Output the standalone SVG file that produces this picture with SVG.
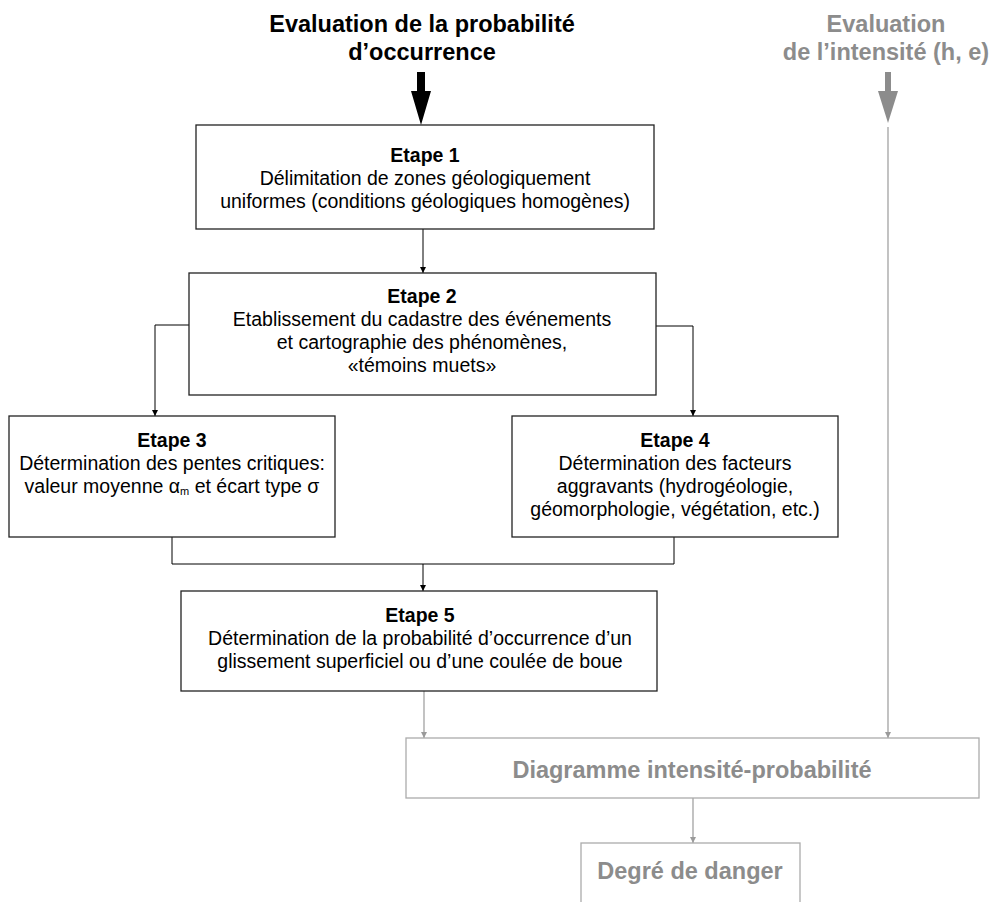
<svg xmlns="http://www.w3.org/2000/svg" width="991" height="902" viewBox="0 0 991 902">
<style>
text{font-family:"Liberation Sans",Arial,Helvetica,sans-serif;text-anchor:middle}
.t{font-size:19.5px;fill:#000}
.b{font-weight:bold}
.title{font-size:23.5px;font-weight:bold;fill:#000}
.gtitle{font-size:23.5px;font-weight:bold;fill:#8c8c8c}
.box{fill:#fff;stroke:#222;stroke-width:1.3}
.gbox{fill:#fff;stroke:#ababab;stroke-width:1.3}
.ln{fill:none;stroke:#000;stroke-width:1}
.gln{fill:none;stroke:#9a9a9a;stroke-width:1.2}
</style>
<defs>
<marker id="ah" viewBox="0 0 6 8" refX="6" refY="4" markerWidth="6" markerHeight="8" markerUnits="userSpaceOnUse" orient="auto"><path d="M0,1 L6,4 L0,7 Z" fill="#000"/></marker>
<marker id="gah" viewBox="0 0 6 8" refX="6" refY="4" markerWidth="6" markerHeight="8" markerUnits="userSpaceOnUse" orient="auto"><path d="M0,1 L6,4 L0,7 Z" fill="#9a9a9a"/></marker>
</defs>

<g id="title-probabilite">
<text class="title" x="422" y="32">Evaluation de la probabilité</text>
<text class="title" x="422" y="60">d’occurrence</text>
</g>
<g id="title-intensite">
<text class="gtitle" x="886" y="32">Evaluation</text>
<text class="gtitle" x="886" y="60">de l’intensité (h, e)</text>
</g>

<g id="connectors">
<polygon points="417,72 425,72 425,91 431,91 421,125 411,91 417,91" fill="#000"/>
<polygon points="885,72 891,72 891,91 898,91 888,123 878,91 885,91" fill="#8c8c8c"/>
<line class="ln" x1="423" y1="229" x2="423" y2="273" marker-end="url(#ah)"/>
<polyline class="ln" points="189,325 155,325 155,416" marker-end="url(#ah)"/>
<polyline class="ln" points="656,326 693,326 693,416" marker-end="url(#ah)"/>
<polyline class="ln" points="172,537 172,564 674,564 674,537"/>
<line class="ln" x1="423" y1="564" x2="423" y2="591" marker-end="url(#ah)"/>
<line class="gln" x1="424" y1="691" x2="424" y2="738" marker-end="url(#gah)"/>
<line class="gln" x1="888" y1="127" x2="888" y2="738" marker-end="url(#gah)"/>
<line class="gln" x1="693" y1="798" x2="693" y2="843" marker-end="url(#gah)"/>
</g>

<g id="etape1">
<rect class="box" x="196" y="125" width="458" height="104"/>
<text class="t b" x="425" y="162">Etape 1</text>
<text class="t" x="425" y="185">Délimitation de zones géologiquement</text>
<text class="t" x="425" y="208">uniformes (conditions géologiques homogènes)</text>
</g>

<g id="etape2">
<rect class="box" x="189" y="273" width="467" height="122"/>
<text class="t b" x="422" y="303">Etape 2</text>
<text class="t" x="422" y="326">Etablissement du cadastre des événements</text>
<text class="t" x="422" y="349">et cartographie des phénomènes,</text>
<text class="t" x="422" y="372">«témoins muets»</text>
</g>

<g id="etape3">
<rect class="box" x="9" y="416" width="326" height="121"/>
<text class="t b" x="172" y="447">Etape 3</text>
<text class="t" x="172" y="470">Détermination des pentes critiques:</text>
<text class="t" x="172" y="493">valeur moyenne α<tspan font-size="11" dy="2">m</tspan><tspan dy="-2"> et écart type σ</tspan></text>
</g>

<g id="etape4">
<rect class="box" x="512" y="416" width="326" height="121"/>
<text class="t b" x="675" y="447">Etape 4</text>
<text class="t" x="675" y="470">Détermination des facteurs</text>
<text class="t" x="675" y="493">aggravants (hydrogéologie,</text>
<text class="t" x="675" y="516">géomorphologie, végétation, etc.)</text>
</g>

<g id="etape5">
<rect class="box" x="181" y="591" width="476" height="100"/>
<text class="t b" x="420" y="622">Etape 5</text>
<text class="t" x="420" y="645">Détermination de la probabilité d’occurrence d’un</text>
<text class="t" x="420" y="668">glissement superficiel ou d’une coulée de boue</text>
</g>

<g id="diagramme">
<rect class="gbox" x="406" y="738" width="573" height="60"/>
<text class="gtitle" x="692" y="778">Diagramme intensité-probabilité</text>
</g>

<g id="degre">
<rect class="gbox" x="581" y="843" width="219" height="70"/>
<text class="gtitle" x="690" y="879">Degré de danger</text>
</g>
</svg>
